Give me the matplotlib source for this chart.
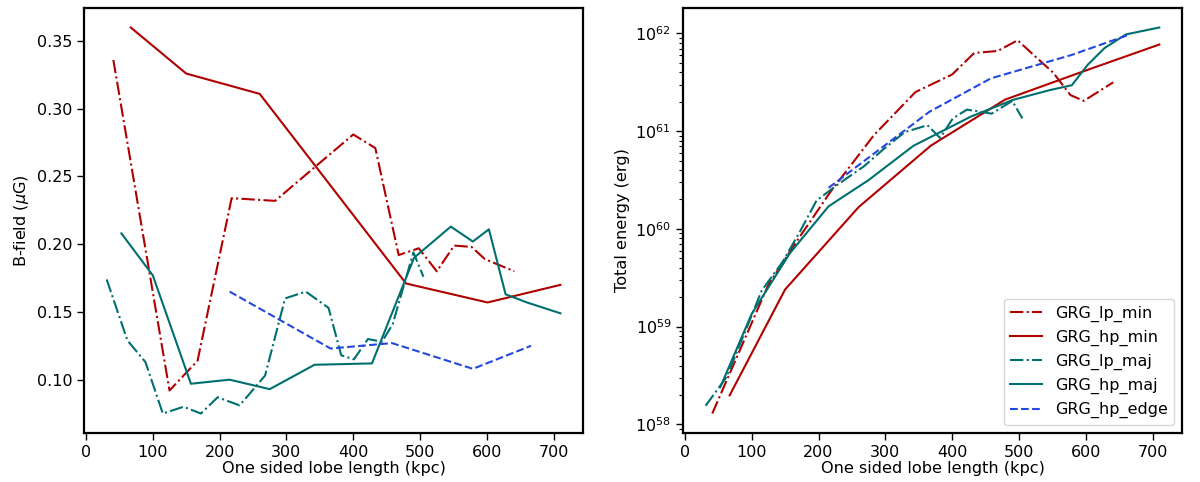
import matplotlib
matplotlib.use('Agg')
import matplotlib.pyplot as plt

# one sided lobe length (kpc), B-field (uG), total energy (erg)
lp_min_x = [41, 125, 167, 218, 283, 345, 400, 433, 468, 498, 525, 551, 577, 597, 641]
lp_min_b = [0.336, 0.092, 0.114, 0.234, 0.232, 0.258, 0.281, 0.271, 0.192, 0.197,
            0.180, 0.199, 0.198, 0.189, 0.180]
lp_min_e = [1.29e58, 2.69e59, 7.41e59, 2.40e60, 9.12e60, 2.51e61, 3.80e61, 6.31e61,
            6.61e61, 8.51e61, 5.75e61, 3.98e61, 2.34e61, 2.04e61, 3.16e61]

hp_min_x = [67, 150, 260, 368, 479, 601, 710]
hp_min_b = [0.360, 0.326, 0.311, 0.242, 0.171, 0.157, 0.170]
hp_min_e = [1.98e58, 2.40e59, 1.67e60, 7.10e60, 2.10e61, 4.20e61, 7.70e61]

lp_maj_x = [31, 62, 89, 115, 146, 172, 197, 230, 268, 298, 329, 363, 382, 401,
            422, 443, 459, 490, 505]
lp_maj_b = [0.174, 0.129, 0.113, 0.075, 0.080, 0.075, 0.087, 0.081, 0.103, 0.160,
            0.165, 0.153, 0.118, 0.115, 0.130, 0.128, 0.141, 0.194, 0.176]
lp_maj_e = [1.55e58, 3.02e58, 8.51e58, 2.34e59, 4.57e59, 9.33e59, 1.95e60, 2.88e60,
            4.37e60, 6.61e60, 9.77e60, 1.15e61, 8.51e60, 1.35e61, 1.66e61, 1.58e61,
            1.51e61, 2.04e61, 1.35e61]

hp_maj_x = [53, 100, 157, 215, 275, 342, 428, 491, 546, 579, 603, 628, 660, 710]
hp_maj_b = [0.208, 0.177, 0.097, 0.100, 0.093, 0.111, 0.112, 0.190, 0.213, 0.202,
            0.211, 0.163, 0.157, 0.149]
hp_maj_e = [2.40e58, 1.35e59, 5.62e59, 1.70e60, 3.16e60, 7.08e60, 1.41e61, 2.09e61,
            2.63e61, 2.95e61, 4.79e61, 7.08e61, 9.77e61, 1.15e62]

hp_edge_x = [215, 366, 458, 579, 666]
hp_edge_b = [0.165, 0.123, 0.127, 0.108, 0.125]
hp_edge_e = [2.63e60, 1.58e61, 3.47e61, 6.03e61, 9.77e61]

RED = '#b00000'
TEAL = '#006f6f'
BLUE = '#2447e0'

series = [
    ('GRG_lp_min', lp_min_x, lp_min_b, lp_min_e, RED, '-.'),
    ('GRG_hp_min', hp_min_x, hp_min_b, hp_min_e, RED, '-'),
    ('GRG_lp_maj', lp_maj_x, lp_maj_b, lp_maj_e, TEAL, '-.'),
    ('GRG_hp_maj', hp_maj_x, hp_maj_b, hp_maj_e, TEAL, '-'),
    ('GRG_hp_edge', hp_edge_x, hp_edge_b, hp_edge_e, BLUE, '--'),
]

fig, (ax1, ax2) = plt.subplots(1, 2, figsize=(12, 4.82), dpi=100)
fig.subplots_adjust(left=0.07, right=0.985, bottom=0.102, top=0.983, wspace=0.2)

for label, x, b, e, col, ls in series:
    ax1.plot(x, b, ls, color=col, lw=1.5, label=label)
    ax2.plot(x, e, ls, color=col, lw=1.5, label=label)

ax2.set_yscale('log')

ax1.set_ylabel(r'B-field ($\mu$G)', fontsize=11.6)
ax2.set_ylabel('Total energy (erg)', fontsize=11.6)
for ax in (ax1, ax2):
    ax.set_xlabel('One sided lobe length (kpc)', fontsize=11.6, labelpad=1)
    ax.tick_params(labelsize=11.5, width=1, length=5)
    ax.tick_params(which='minor', width=0.8, length=3)
    for sp in ax.spines.values():
        sp.set_linewidth(1.6)

ax2.legend(loc='lower right', fontsize=11.5)

plt.savefig('out.png', dpi=100)
